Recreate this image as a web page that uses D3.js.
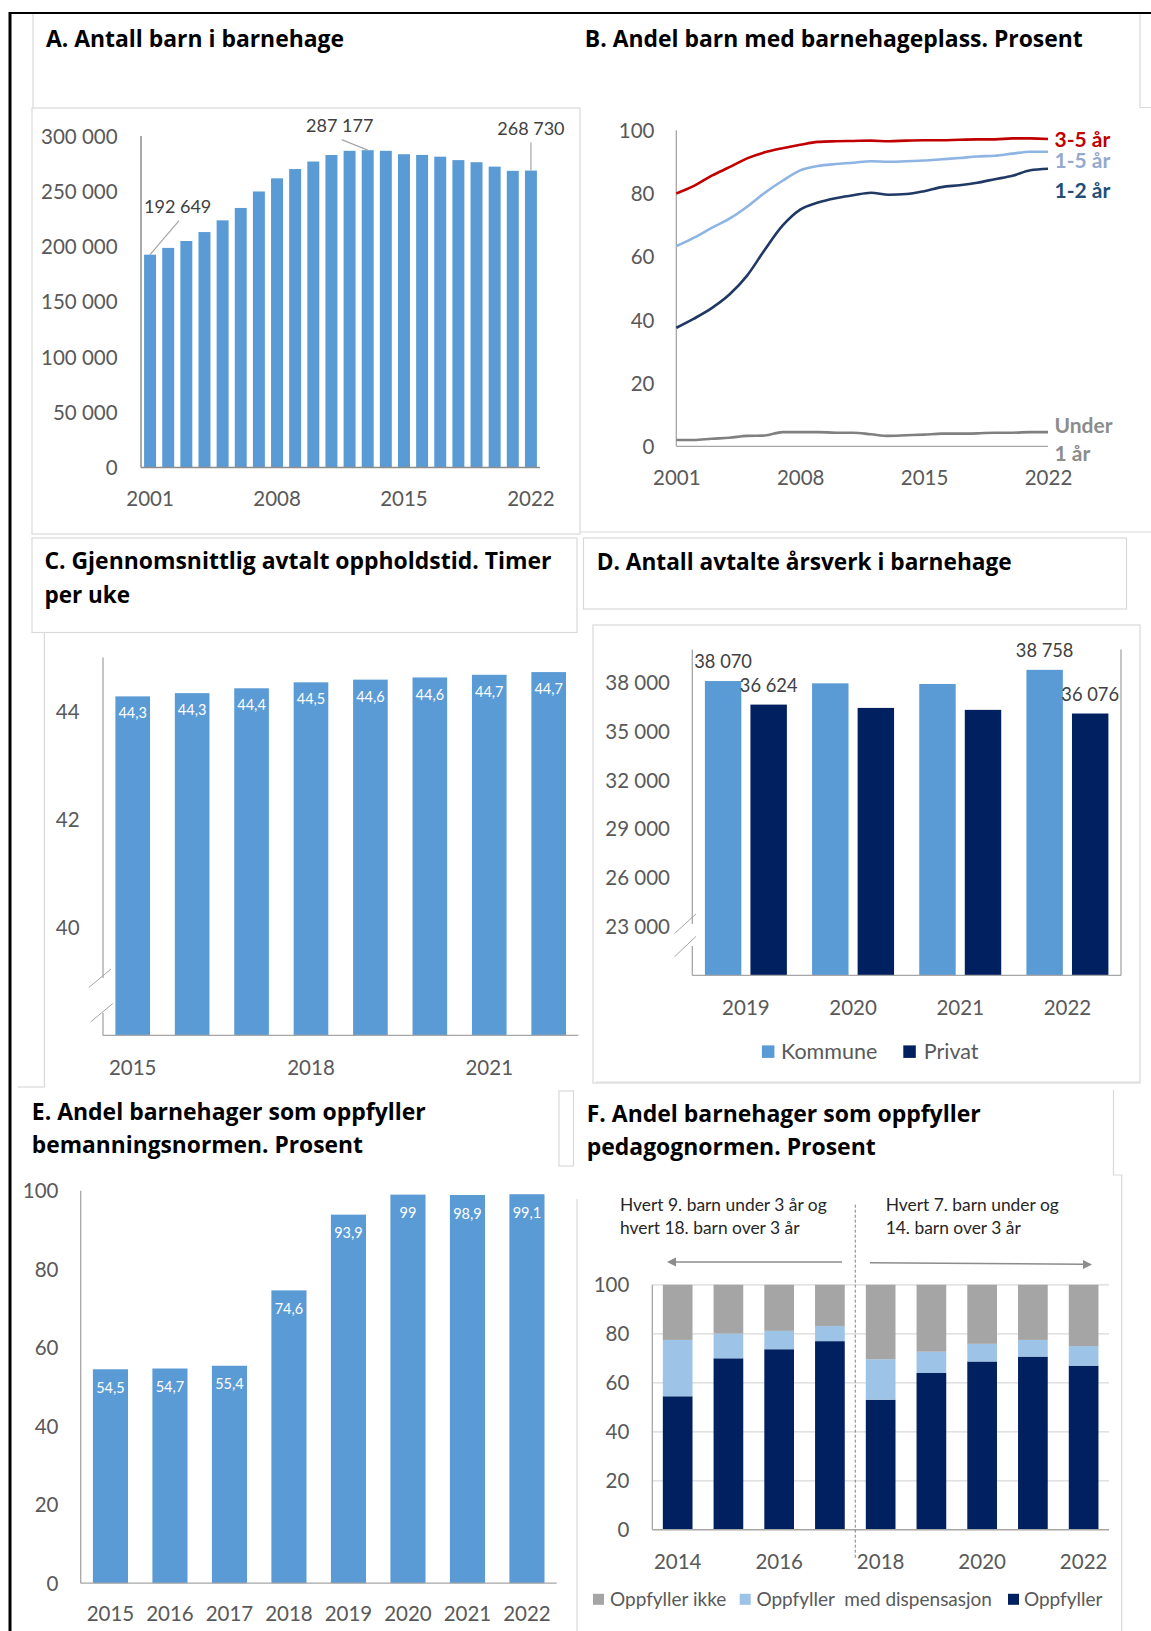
<!DOCTYPE html>
<html><head><meta charset="utf-8">
<script src="https://cdn.jsdelivr.net/npm/d3@7"></script>
<style>
html,body{margin:0;padding:0;background:#fff;}
svg{display:block;font-family:Lato,"Open Sans",sans-serif;}
</style></head><body>
<svg id="c" width="1151" height="1631"></svg>
<script>
// ---------------- DATA ----------------
const yearsA = [2001,2002,2003,2004,2005,2006,2007,2008,2009,2010,2011,2012,2013,2014,2015,2016,2017,2018,2019,2020,2021,2022];
const childrenA = [192649,198750,205000,213100,223700,234900,249800,261700,270100,276900,282800,286600,287177,286600,283500,282900,281300,278200,276300,272300,268500,268730];
const yTicksA = [0,50000,100000,150000,200000,250000,300000];
const xTicksA = [2001,2008,2015,2022];
const labelledA = [2001,2013,2022];

const yearsB = yearsA;
const pct35 = [80.0,82.4,85.6,88.3,91.1,93.0,94.3,95.4,96.3,96.5,96.6,96.7,96.5,96.7,96.8,96.8,97.0,97.1,97.1,97.4,97.4,97.2];
const pct15 = [63.3,66.0,69.1,72.0,75.8,80.2,84.0,87.3,88.7,89.3,89.7,90.2,90.0,90.2,90.4,90.8,91.2,91.7,91.9,92.6,93.2,93.2];
const pct12 = [37.5,40.4,43.7,48.0,54.0,62.2,69.8,74.9,77.1,78.5,79.4,80.2,79.6,79.8,80.7,82.0,82.6,83.4,84.5,85.6,87.3,87.8];
const pctU1 = [2.0,2.0,2.4,2.7,3.3,3.4,4.5,4.5,4.5,4.3,4.3,3.8,3.3,3.5,3.7,4.0,4.0,4.1,4.3,4.3,4.5,4.5];
const seriesNamesB = ["3-5 år","1-5 år","1-2 år","Under 1 år"];
const yTicksB = [0,20,40,60,80,100];
const xTicksB = [2001,2008,2015,2022];

const yearsC = [2015,2016,2017,2018,2019,2020,2021,2022];
const hoursC = [44.28,44.34,44.43,44.54,44.59,44.63,44.68,44.73];
const yTicksC = [40,42,44];
const xTicksC = [2015,2018,2021];

const yearsD = ["2019","2020","2021","2022"];
const seriesD = ["Kommune","Privat"];
const kommuneD = [38070,37930,37890,38758];
const privatD = [36624,36420,36300,36076];
const yTicksD = [23000,26000,29000,32000,35000,38000];

const yearsE = [2015,2016,2017,2018,2019,2020,2021,2022];
const bemanningE = [54.5,54.7,55.4,74.6,93.9,99,98.9,99.1];
const yTicksE = [0,20,40,60,80,100];

const yearsF = [2014,2015,2016,2017,2018,2019,2020,2021,2022];
const oppfyllerF = [54.5,70.0,73.7,77.0,53.1,64.0,68.7,70.7,67.0];
const dispensasjonF = [23.0,10.1,7.5,6.2,16.5,8.7,7.2,6.8,8.0];
const ikkeF = [22.5,19.9,18.8,16.8,30.4,27.3,24.1,22.5,25.0];
const seriesF = ["Oppfyller ikke","Oppfyller  med dispensasjon","Oppfyller"];
const yTicksF = [0,20,40,60,80,100];
const xTicksF = [2014,2016,2018,2020,2022];

const titles = {
  A: ["A. Antall barn i barnehage"],
  B: ["B. Andel barn med barnehageplass. Prosent"],
  C: ["C. Gjennomsnittlig avtalt oppholdstid. Timer","per uke"],
  D: ["D. Antall avtalte årsverk i barnehage"],
  E: ["E. Andel barnehager som oppfyller","bemanningsnormen. Prosent"],
  F: ["F. Andel barnehager som oppfyller","pedagognormen. Prosent"]
};
const notesF = [["Hvert 9. barn under 3 år og","hvert 18. barn over 3 år"],["Hvert 7. barn under og","14. barn over 3 år"]];

// ---------------- STYLE ----------------
const FONT = 'Lato,"Open Sans",sans-serif';
const BLUE = "#5B9BD5", NAVY = "#002060", LIGHT = "#9DC3E6", GREY = "#A5A5A5";
const TICK = "#595959", AXIS = "#8C8C8C", BOX = "#D9D9D9";
const loc = d3.formatLocale({decimal:",", thousands:"\u00a0", grouping:[3], currency:["","kr"]});
const fInt = loc.format(",.0f");
const f1 = loc.format(".1~f");

const svg = d3.select("#c");
svg.append("rect").attr("width",1151).attr("height",1631).attr("fill","#fff");

function line(g,x1,y1,x2,y2,stroke,w,dash){
  const l=g.append("line").attr("x1",x1).attr("y1",y1).attr("x2",x2).attr("y2",y2)
   .attr("stroke",stroke).attr("stroke-width",w||1);
  if(dash) l.attr("stroke-dasharray",dash);
  return l;
}
// title lines, each fitted to the width it has in the reference
function title(lines,widths,x,y0,lh){
  lines.forEach((t,i)=>{
    const el=svg.append("text").attr("x",x).attr("y",y0+i*lh)
      .attr("font-family",'"Open Sans",Lato,sans-serif')
      .attr("font-size",22.5).attr("font-weight",700).attr("fill","#000").text(t);
    const w=el.node().getComputedTextLength();
    if(Math.abs(w-widths[i])>2) el.attr("textLength",widths[i]).attr("lengthAdjust","spacingAndGlyphs");
  });
}
function leftAxis(scale,x,ticks,fmt,pad,size){
  const g=svg.append("g").attr("transform",`translate(${x},0)`)
    .call(d3.axisLeft(scale).tickValues(ticks).tickSize(0).tickPadding(pad).tickFormat(fmt));
  g.select(".domain").remove();
  g.attr("font-family",FONT).attr("font-size",size||20).attr("color",TICK);
  g.selectAll("text").attr("dy","0.35em");
  return g;
}
function bottomAxis(scale,y,ticks,fmt,off,size){
  const g=svg.append("g").attr("transform",`translate(0,${y})`)
    .call(d3.axisBottom(scale).tickValues(ticks).tickSize(0).tickFormat(fmt||(d=>d)));
  g.select(".domain").remove();
  g.attr("font-family",FONT).attr("font-size",size||20).attr("color",TICK);
  g.selectAll("text").attr("y",off).attr("dy","0.35em");
  return g;
}

// ---------------- FRAME ----------------
line(svg,9,13,1151,13,"#000",2);
line(svg,10,12,10,1631,"#000",3);
const boxes = svg.append("g").attr("fill","none").attr("stroke",BOX).attr("stroke-width",1.2);
boxes.append("line").attr("x1",33).attr("y1",14).attr("x2",33).attr("y2",108);
boxes.append("rect").attr("x",32).attr("y",108).attr("width",548).attr("height",426);
boxes.append("polyline").attr("points","1140,14 1140,107.5 1151,107.5");
boxes.append("line").attr("x1",580).attr("y1",532).attr("x2",1151).attr("y2",532);
boxes.append("rect").attr("x",32).attr("y",538).attr("width",545).attr("height",94.5);
boxes.append("line").attr("x1",44.4).attr("y1",632.5).attr("x2",44.4).attr("y2",1087);
boxes.append("polyline").attr("points","18,1087 44.4,1087");
boxes.append("rect").attr("x",583.5).attr("y",538).attr("width",543).attr("height",71);
boxes.append("rect").attr("x",593).attr("y",625).attr("width",547).attr("height",458);
boxes.append("rect").attr("x",559).attr("y",1091).attr("width",14.5).attr("height",75);
boxes.append("polyline").attr("points","596,1082 1140,1082");
boxes.append("polyline").attr("points","1113.5,1090 1113.5,1175 1121.7,1175 1121.7,1631");
boxes.append("line").attr("x1",577).attr("y1",1199).attr("x2",577).attr("y2",1631);

// ---------------- PANEL A ----------------
title(titles.A,[298],46,46.5,33);
const xA = d3.scaleBand().domain(yearsA).range([141,540]).paddingInner(0.34).paddingOuter(0.17);
const yA = d3.scaleLinear().domain([0,300000]).range([467.6,136]);
svg.append("g").selectAll("rect").data(yearsA).join("rect")
  .attr("x",d=>xA(d)).attr("width",xA.bandwidth())
  .attr("y",(d,i)=>yA(childrenA[i])).attr("height",(d,i)=>yA(0)-yA(childrenA[i]))
  .attr("fill",BLUE);
line(svg,141,yA(300000),141,yA(0),AXIS,1.5);
line(svg,141,yA(0),540,yA(0),AXIS,1.5);
leftAxis(yA,141,yTicksA,fInt,23.4,20.5);
bottomAxis(xA,yA(0),xTicksA,null,31.7,20.5);
const annA = {2001:{lx:29,ly:-34,tx:27.6,ty:-48},2013:{lx:-26,ly:-10.6,tx:-28,ty:-24},2022:{lx:0,ly:-28,tx:0,ty:-41.5}};
labelledA.forEach(yr=>{
  const i=yearsA.indexOf(yr), cx=xA(yr)+xA.bandwidth()/2, cy=yA(childrenA[i]), o=annA[yr];
  line(svg,cx,cy,cx+o.lx,cy+o.ly,"#A6A6A6",1.2);
  svg.append("text").attr("x",cx+o.tx).attr("y",cy+o.ty).attr("dy","0.35em")
    .attr("text-anchor","middle").attr("font-size",18).attr("fill","#404040").text(fInt(childrenA[i]));
});

// ---------------- PANEL B ----------------
title(titles.B,[498],584.8,46.5,33);
const xB = d3.scaleLinear().domain([2001,2022]).range([676.3,1048]);
const yB = d3.scaleLinear().domain([0,100]).range([446.3,130.2]);
line(svg,676.3,yB(100),676.3,yB(0),"#A6A6A6",1.3);
line(svg,676.3,yB(0),1048,yB(0),"#A6A6A6",1.3);
leftAxis(yB,676.3,yTicksB,d=>d,21.8,20.5);
bottomAxis(xB,yB(0),xTicksB,d=>d,31.7,20.5);
const linesB = [
  {name:seriesNamesB[3],vals:pctU1,color:"#808080",lab:"#8C8C8C",dy:[0.5,29]},
  {name:seriesNamesB[2],vals:pct12,color:"#1F3864",lab:"#1F4E79",dy:[29]},
  {name:seriesNamesB[1],vals:pct15,color:"#8EB4E3",lab:"#95A9CF",dy:[16]},
  {name:seriesNamesB[0],vals:pct35,color:"#C00000",lab:"#C00000",dy:[8]}
];
const lg = d3.line().x((d,i)=>xB(yearsB[i])).y(d=>yB(d)).curve(d3.curveMonotoneX);
linesB.forEach(s=>{
  svg.append("path").attr("d",lg(s.vals)).attr("fill","none").attr("stroke",s.color)
    .attr("stroke-width",2.6).attr("stroke-linejoin","round");
  const yEnd = yB(s.vals[s.vals.length-1]);
  const parts = s.name==="Under 1 år" ? ["Under","1 år"] : [s.name];
  parts.forEach((p,k)=>svg.append("text").attr("x",1054.5).attr("y",yEnd+s.dy[k])
    .attr("font-size",21).attr("font-weight",700).attr("fill",s.lab).text(p));
});

// ---------------- PANEL C ----------------
title(titles.C,[507,85],44.4,569.3,33.2);
const xC = d3.scaleBand().domain(yearsC).range([103,578.4]).paddingInner(0.417).paddingOuter(0.2085);
const yC = d3.scaleLinear().domain([38,45]).range([1035.4,657.5]);
svg.append("g").selectAll("rect").data(yearsC).join("rect")
  .attr("x",d=>xC(d)).attr("width",xC.bandwidth())
  .attr("y",(d,i)=>yC(hoursC[i])).attr("height",(d,i)=>yC(38)-yC(hoursC[i])).attr("fill",BLUE);
svg.append("g").selectAll("text").data(yearsC).join("text")
  .attr("x",d=>xC(d)+xC.bandwidth()/2).attr("y",(d,i)=>yC(hoursC[i])+17).attr("dy","0.35em")
  .attr("text-anchor","middle").attr("font-size",14.5).attr("fill","#fff").text((d,i)=>f1(hoursC[i]));
line(svg,103,657.5,103,978,"#A6A6A6",1.3);
line(svg,103,1013,103,1035.4,"#A6A6A6",1.3);
line(svg,103,1035.4,578.4,1035.4,"#A6A6A6",1.3);
line(svg,88.8,987.5,111,969,"#A6A6A6",1);
line(svg,90.6,1022,112.8,1003.5,"#A6A6A6",1);
leftAxis(yC,103,yTicksC,d=>d,23.4,20.5);
bottomAxis(xC,1035.4,xTicksC,null,32.1,20.5);

// ---------------- PANEL D ----------------
title(titles.D,[415],596.7,570,33);
const x0D = d3.scaleBand().domain(yearsD).range([692.3,1121]).paddingInner(0.235).paddingOuter(0.1175);
const x1D = d3.scaleBand().domain(seriesD).range([0,x0D.bandwidth()]).paddingInner(0.2);
const yD = d3.scaleLinear().domain([20000,40000]).range([975.4,649.6]);
const colD = {Kommune:BLUE,Privat:NAVY};
const dataD = [];
yearsD.forEach((y,i)=>{dataD.push({y,s:"Kommune",v:kommuneD[i]});dataD.push({y,s:"Privat",v:privatD[i]});});
svg.append("g").selectAll("rect").data(dataD).join("rect")
  .attr("x",d=>x0D(d.y)+x1D(d.s)).attr("width",x1D.bandwidth())
  .attr("y",d=>yD(d.v)).attr("height",d=>yD(20000)-yD(d.v)).attr("fill",d=>colD[d.s]);
const labD = dataD.filter(d=>d.y==="2019"||d.y==="2022");
svg.append("g").selectAll("text").data(labD).join("text")
  .attr("x",d=>x0D(d.y)+x1D(d.s)+x1D.bandwidth()/2).attr("y",d=>yD(d.v)-19.3).attr("dy","0.35em")
  .attr("text-anchor","middle").attr("font-size",18.3).attr("fill","#404040").text(d=>fInt(d.v));
line(svg,692.3,649.6,692.3,924,"#A6A6A6",1.3);
line(svg,692.3,946,692.3,975.4,"#A6A6A6",1.3);
line(svg,1121,649.6,1121,975.4,"#A6A6A6",1.3);
line(svg,692.3,975.4,1121,975.4,"#A6A6A6",1.3);
line(svg,674.5,933.6,696,913.9,"#A6A6A6",1);
line(svg,674.5,956.8,696,936.4,"#A6A6A6",1);
leftAxis(yD,692.3,yTicksD,fInt,22.3,20.5);
bottomAxis(x0D,975.4,yearsD,null,32.1,20.5);
const legD = svg.append("g");
[[761.9,781],[903.3,923.7]].forEach((p,i)=>{
  legD.append("rect").attr("x",p[0]).attr("y",1045.4).attr("width",12.5).attr("height",12.5).attr("fill",colD[seriesD[i]]);
  legD.append("text").attr("x",p[1]).attr("y",1051.6).attr("dy","0.35em").attr("font-size",21.5).attr("fill",TICK).text(seriesD[i]);
});

// ---------------- PANEL E ----------------
title(titles.E,[394,331],31.8,1120.4,32.3);
const xE = d3.scaleBand().domain(yearsE).range([80.7,556.7]).paddingInner(0.41).paddingOuter(0.205);
const yE = d3.scaleLinear().domain([0,100]).range([1583.2,1190.7]);
svg.append("g").selectAll("rect").data(yearsE).join("rect")
  .attr("x",d=>xE(d)).attr("width",xE.bandwidth())
  .attr("y",(d,i)=>yE(bemanningE[i])).attr("height",(d,i)=>yE(0)-yE(bemanningE[i])).attr("fill",BLUE);
svg.append("g").selectAll("text").data(yearsE).join("text")
  .attr("x",d=>xE(d)+xE.bandwidth()/2).attr("y",(d,i)=>yE(bemanningE[i])+18.6).attr("dy","0.35em")
  .attr("text-anchor","middle").attr("font-size",14.5).attr("fill","#fff").text((d,i)=>f1(bemanningE[i]));
line(svg,80.7,1190.7,80.7,1583.2,"#A6A6A6",1.3);
line(svg,80.7,1583.2,556.7,1583.2,"#A6A6A6",1.3);
leftAxis(yE,80.7,yTicksE,d=>d,22.2,20.5);
bottomAxis(xE,1583.2,yearsE,null,30.8,20.5);

// ---------------- PANEL F ----------------
title(titles.F,[394,289],586.7,1121.5,33.3);
const xF = d3.scaleBand().domain(yearsF).range([652.3,1109]).paddingInner(0.415).paddingOuter(0.2075);
const yF = d3.scaleLinear().domain([0,100]).range([1529.8,1284.8]);
svg.append("g").selectAll("line").data(yTicksF.slice(1)).join("line")
  .attr("x1",652.3).attr("x2",1109).attr("y1",d=>yF(d)).attr("y2",d=>yF(d)).attr("stroke","#D9D9D9").attr("stroke-width",1.2);
const rowsF = yearsF.map((y,i)=>({year:y,Oppfyller:oppfyllerF[i],Disp:dispensasjonF[i],Ikke:ikkeF[i]}));
const stackF = d3.stack().keys(["Oppfyller","Disp","Ikke"])(rowsF);
const colF = {Oppfyller:NAVY,Disp:LIGHT,Ikke:GREY};
stackF.forEach(layer=>{
  svg.append("g").selectAll("rect").data(layer).join("rect")
    .attr("x",d=>xF(d.data.year)).attr("width",xF.bandwidth())
    .attr("y",d=>yF(d[1])).attr("height",d=>yF(d[0])-yF(d[1])).attr("fill",colF[layer.key]);
});
line(svg,652.3,1284.8,652.3,1529.8,"#A6A6A6",1.3);
line(svg,652.3,1529.8,1109,1529.8,"#A6A6A6",1.6);
leftAxis(yF,652.3,yTicksF,d=>d,23,20.5);
bottomAxis(xF,1529.8,xTicksF,null,31.7,20.5);
const xSplit = (xF(2017)+xF.bandwidth()+xF(2018))/2;
line(svg,xSplit,1204.7,xSplit,1559.6,"#808080",1,"3,2");
notesF.forEach((ls,k)=>ls.forEach((t,j)=>svg.append("text").attr("x",k?885.7:620).attr("y",1205.4+j*22.9)
  .attr("dy","0.35em").attr("font-size",17.4).attr("fill","#262626").text(t)));
line(svg,842,1262,675,1262,"#8C8C8C",1.4);
svg.append("path").attr("d","M667,1262 L676,1257.5 L676,1266.5 Z").attr("fill","#8C8C8C");
line(svg,870,1262.7,1084,1264.3,"#8C8C8C",1.4);
svg.append("path").attr("d","M1092,1264.4 L1083,1259.9 L1083,1268.9 Z").attr("fill","#8C8C8C");
const legF = [[593,610,GREY],[739.7,756.4,LIGHT],[1008,1023.9,NAVY]];
legF.forEach((p,i)=>{
  svg.append("rect").attr("x",p[0]).attr("y",1593.8).attr("width",11).attr("height",11).attr("fill",p[2]);
  svg.append("text").attr("x",p[1]).attr("y",1599.3).attr("dy","0.35em").attr("font-size",19)
    .attr("fill",TICK).style("white-space","pre").text(seriesF[i]);
});
</script></body></html>
